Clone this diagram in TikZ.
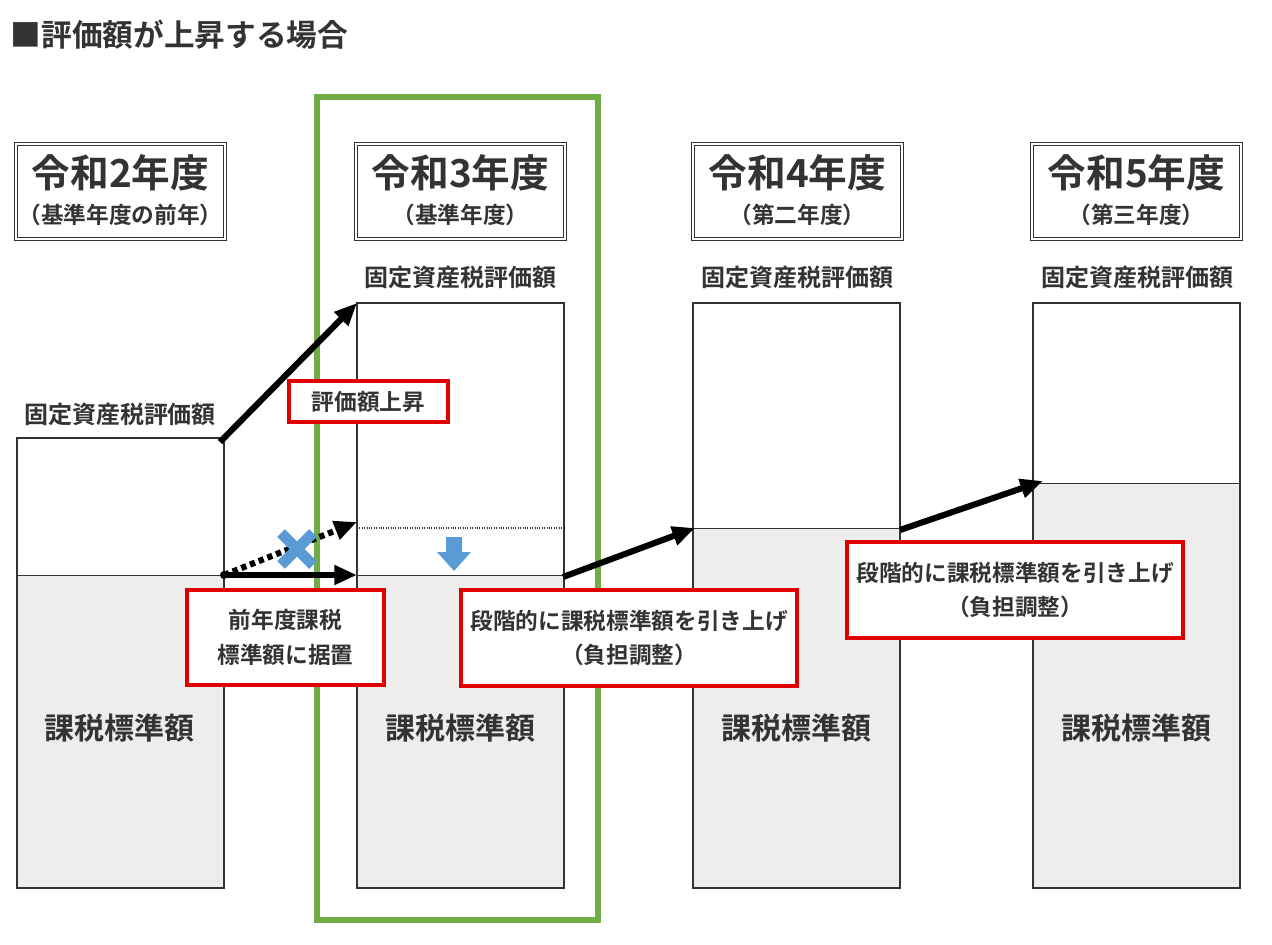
\documentclass[tikz,border=0pt]{standalone}
\usepackage{fontspec}
\setmainfont{Noto Sans CJK JP}[BoldFont={* Bold}]
\usetikzlibrary{arrows.meta}
\definecolor{gr}{HTML}{70AD47}
\definecolor{rd}{HTML}{E00000}
\definecolor{bl}{HTML}{5B9BD5}
\definecolor{fill1}{HTML}{EDEDED}
\definecolor{tx}{HTML}{333333}
\begin{document}
\begin{tikzpicture}[x=0.75pt,y=-0.75pt,
  col/.style={draw=black!80,line width=0.9pt},
  hdr/.style={draw=black!80,line width=1pt,double,double distance=1.5pt,fill=white,minimum width=156.75pt,minimum height=71.25pt,inner sep=0},
  redbox/.style={draw=rd,line width=2.6pt,fill=white,align=center,font=\bfseries\fontsize{17}{26}\selectfont,text=tx,inner sep=0},
  lbl/.style={font=\bfseries\fontsize{18}{21}\selectfont,text=tx},
  big/.style={font=\bfseries\fontsize{22.5}{26}\selectfont,text=tx},
  yr/.style={font=\bfseries\fontsize{29}{32}\selectfont,text=tx},
  sub/.style={font=\bfseries\fontsize{17}{20}\selectfont,text=tx},
  arr/.style={line width=4.6pt,-{Triangle[length=17pt,width=14pt]}}]
\useasboundingbox (0,0) rectangle (1272,945);
\node[anchor=west,font=\bfseries\fontsize{23}{26}\selectfont,text=tx] (title) at (6,35) {■評価額が上昇する場合};
% columns
\foreach \x/\t/\d [count=\i] in {17/438/575,357/303/575,693/303/528,1033/303/483}{
  \fill[fill1] (\x,\d) rectangle (\x+207,888);
  \draw[col] (\x,\t) rectangle (\x+207,888);
  \draw[black!80,line width=0.6pt] (\x,\d) -- (\x+207,\d);
  \node[big] (k\i) at (\x+103,728) {課税標準額};
}
\draw[black!80,densely dotted,line width=0.8pt] (357,528) -- (564,528);
% green
\draw[gr,line width=5pt] (317,97) rectangle (598,920);
% headers
\foreach \x/\y/\s [count=\i] in {120.5/令和2年度/（基準年度の前年）,460.5/令和3年度/（基準年度）,797.5/令和4年度/（第二年度）,1136.5/令和5年度/（第三年度）}{
  \node[hdr] (h\i) at (\x,191.5) {};
  \node[yr] (hy\i) at (\x,173) {\y};
  \node[sub] (hs\i) at (\x,215) {\s};
}
\node[lbl] (l1) at (120,414) {固定資産税評価額};
\node[lbl] (l2) at (460,277) {固定資産税評価額};
\node[lbl] (l3) at (797,277) {固定資産税評価額};
\node[lbl] (l4) at (1137,277) {固定資産税評価額};
% arrows
\coordinate (a0) at (220,442); \coordinate (a1) at (357,303);
\coordinate (b0) at (224,575); \coordinate (b1) at (357,575);
\coordinate (c1) at (357,522);
\coordinate (d0) at (563,577); \coordinate (d1) at (695,528);
\coordinate (e0) at (900,530); \coordinate (e1) at (1043,481);
\draw[arr] (a0) -- (a1);
\draw[arr,dash pattern=on 4pt off 3pt] (b0) -- (c1);
\draw[arr] (b0) -- (b1);
\fill[black] (b0) circle (3pt);
\draw[arr] (d0) -- (d1);
\draw[arr] (e0) -- (e1);
% cross
\draw[bl,line width=8pt] (281,533) -- (313,565) (313,533) -- (281,565);
\fill[bl] (446,537) -- (462,537) -- (462,552) -- (471,552) -- (454,571) -- (437,552) -- (446,552) -- cycle;
% red boxes
\node[redbox,minimum width=119.25pt,minimum height=30.75pt] (r1) at (368.5,401.5) {評価額上昇};
\node[redbox,minimum width=147.75pt,minimum height=71.25pt] (r2) at (285.5,637.5) {前年度課税\\標準額に据置};
\node[redbox,minimum width=252pt,minimum height=72pt] (r3) at (629,638) {段階的に課税標準額を引き上げ\\（負担調整）};
\node[redbox,minimum width=252pt,minimum height=72pt] (r4) at (1015,590) {段階的に課税標準額を引き上げ\\（負担調整）};
\end{tikzpicture}
\end{document}
